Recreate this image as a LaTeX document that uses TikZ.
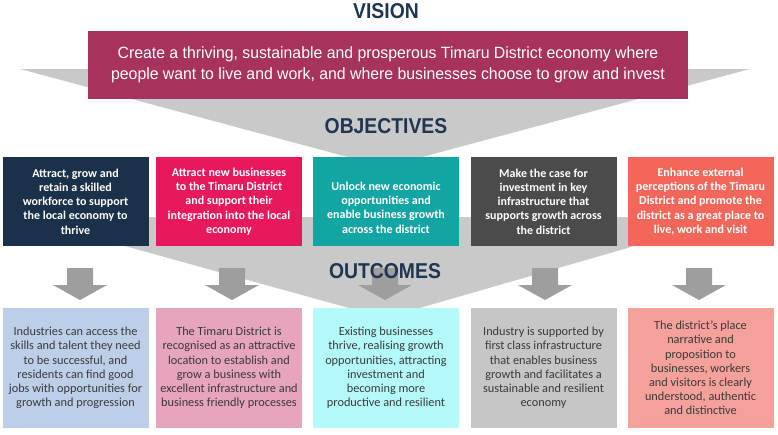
\documentclass[tikz,border=0pt]{standalone}
\usepackage{fontspec}
\setmainfont{Carlito}
\newfontfamily\titlefont[FakeStretch=0.9]{Liberation Sans}
\newfontfamily\visfont[FakeStretch=0.97]{Liberation Sans}
\definecolor{chev}{HTML}{C9C9C9}
\definecolor{titlenavy}{HTML}{1F3552}
\definecolor{vismag}{HTML}{A8325E}
\definecolor{obja}{HTML}{1B3049}
\definecolor{objb}{HTML}{E8185C}
\definecolor{objc}{HTML}{13A5A3}
\definecolor{objd}{HTML}{4B4B4B}
\definecolor{obje}{HTML}{F2675A}
\definecolor{outa}{HTML}{BDCFE8}
\definecolor{outb}{HTML}{E6A4BE}
\definecolor{outc}{HTML}{B4FAFA}
\definecolor{outd}{HTML}{C6C6C6}
\definecolor{oute}{HTML}{F5A19B}
\definecolor{arrowgray}{HTML}{9E9E9E}
\definecolor{outtext}{HTML}{3A3A3A}
\newcommand\blockarrowat[1]{%
  \fill[arrowgray] (#1-13,268) -- (#1+13,268) -- (#1+13,285) -- (#1+27,285)
    -- (#1,300) -- (#1-27,285) -- (#1-13,285) -- cycle;}
\begin{document}
\begin{tikzpicture}[x=1pt,y=-1pt,
  title/.style={text=titlenavy,font=\titlefont\bfseries\fontsize{21.5}{24}\selectfont,inner sep=0},
  objbox/.style={minimum width=146,minimum height=89,inner sep=0,text=white,align=center,
    font=\bfseries\fontsize{12}{14.3}\selectfont},
  outbox/.style={minimum width=146,minimum height=120,inner sep=0,text=outtext,align=center,
    font=\fontsize{12.3}{14.2}\selectfont},
  boxtext/.style={inner sep=0,align=center}]
\useasboundingbox (0,0) rectangle (778,434);
% chevrons
\fill[chev] (20,69) -- (750,69) -- (385,167) -- cycle;
\fill[chev] (20,217) -- (735,217) -- (385,318) -- cycle;
% titles
\node[title] (tvision) at (386,11) {VISION};
\node[title] (tobj) at (386,126) {OBJECTIVES};
% vision box
\node[fill=vismag,minimum width=600,minimum height=68,inner sep=0] (vision) at (388,65) {};
\node[boxtext,text=white,font=\visfont\fontsize{16.3}{21}\selectfont] (visiontext) at (vision.center)
  {Create a thriving, sustainable and prosperous Timaru District economy where\\
   people want to live and work, and where businesses choose to grow and invest};
% objectives
\node[objbox,fill=obja] (o1) at (75.5,201.5) {Attract, grow and\\ retain a skilled\\ workforce to support\\ the local economy to\\ thrive};
\node[objbox,fill=objb] (o2) at (229,201.5) {Attract new businesses\\ to the Timaru District\\ and support their\\ integration into the local\\ economy};
\node[objbox,fill=objc] (o3) at (386,201.5) {};
\node[boxtext,text=white,font=\bfseries\fontsize{12}{14.3}\selectfont] (o3text) at ([yshift=-6]o3.center) {Unlock new economic\\ opportunities and\\ enable business growth\\ across the district};
\node[objbox,fill=objd] (o4) at (543.5,201.5) {Make the case for\\ investment in key\\ infrastructure that\\ supports growth across\\ the district};
\node[objbox,fill=obje] (o5) at (700.5,201.5) {Enhance external\\ perceptions of the Timaru\\ District and promote the\\ district as a great place to\\ live, work and visit};
% arrows
\blockarrowat{80}
\blockarrowat{232}
\blockarrowat{385}
\blockarrowat{545}
\blockarrowat{699}
\node[title] (tout) at (385,271) {OUTCOMES};
% outcomes
\node[outbox,fill=outa] (u1) at (75.5,368) {Industries can access the\\ skills and talent they need\\ to be successful, and\\ residents can find good\\ jobs with opportunities for\\ growth and progression};
\node[outbox,fill=outb] (u2) at (229,368) {The Timaru District is\\ recognised as an attractive\\ location to establish and\\ grow a business with\\ excellent infrastructure and\\ business friendly processes};
\node[outbox,fill=outc] (u3) at (386,368) {Existing businesses\\ thrive, realising growth\\ opportunities, attracting\\ investment and\\ becoming more\\ productive and resilient};
\node[outbox,fill=outd] (u4) at (543.5,368) {Industry is supported by\\ first class infrastructure\\ that enables business\\ growth and facilitates a\\ sustainable and resilient\\ economy};
\node[outbox,fill=oute] (u5) at (700.5,368) {The district's place\\ narrative and\\ proposition to\\ businesses, workers\\ and visitors is clearly\\ understood, authentic\\ and distinctive};
\end{tikzpicture}
\end{document}
